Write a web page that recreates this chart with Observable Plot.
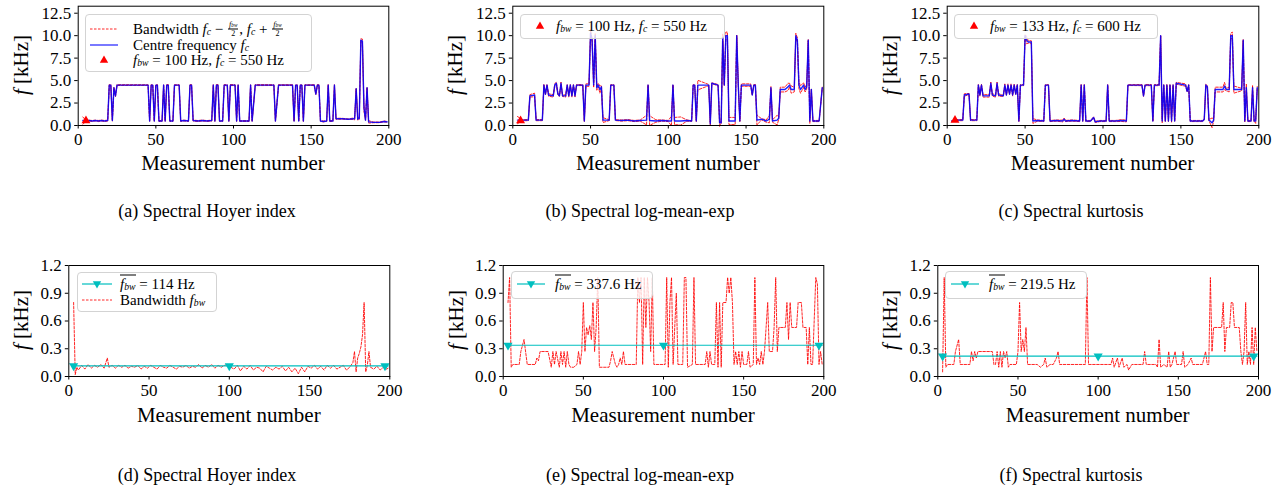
<!DOCTYPE html>
<html><head><meta charset="utf-8">
<script src="https://cdn.jsdelivr.net/npm/d3@7"></script>
<script src="https://cdn.jsdelivr.net/npm/@observablehq/plot@0.6"></script>
<style>
body{margin:0;background:#fff;font-family:"Liberation Serif",serif;color:#000;}
#root{position:relative;width:1288px;height:491px;overflow:hidden;background:#fff;}
.panel{position:absolute;}
.lbl{position:absolute;font-size:21px;white-space:nowrap;transform:translate(-50%,-50%);line-height:1;}
.ylbl{transform:translate(-50%,-50%) rotate(-90deg);}
.cap{position:absolute;font-size:18px;white-space:nowrap;transform:translate(-50%,-50%);line-height:1;}
.leg{position:absolute;background:rgba(255,255,255,0.8);border:1px solid #d3d3d3;border-radius:4px;box-sizing:border-box;}
.ltxt{position:absolute;font-size:15px;white-space:nowrap;transform:translateY(-50%);line-height:1;}
.samp{position:absolute;overflow:visible;}
sub{font-size:65%;vertical-align:-0.2em;line-height:0;}
.fr{display:inline-flex;flex-direction:column;vertical-align:middle;font-size:8px;text-align:center;line-height:0.9;margin:-4px 1px;position:relative;top:-1px;}
.fr .n{border-bottom:0.8px solid #000;padding:0 1px 0.5px 1px;}
.fr sub{vertical-align:-0.1em;}
.ov{border-top:1px solid #000;padding-top:0px;}
</style>
</head><body><div id="root"></div>
<script>
// ---------- data ----------
const measTicks = [0, 50, 100, 150, 200];
const topTicks = [0, 2.5, 5, 7.5, 10, 12.5];
const bottomTicks = [0, 0.3, 0.6, 0.9, 1.2];

// centre frequency f_c [kHz] : [measurement, value]
const hoyerFc = [[3,0.55],[5,0.5],[7,0.55],[9,0.5],[11,0.55],[13,0.5],[15,0.55],[17,0.5],[19,0.55],[20,4.5],[21,4.5],[22,0.55],[23,4.2],[24,3.3],[25,4.5],[45,4.5],[46,0.5],[47,4.5],[48,4.5],[49,0.5],[50,4.5],[51,4.5],[52,0.5],[54,0.5],[55,4.5],[56,0.5],[57,4.5],[58,4.5],[59,0.5],[61,0.5],[62,4.5],[65,4.5],[66,0.5],[68,0.55],[71,0.5],[72,4.5],[73,4.5],[74,0.55],[77,0.5],[80,0.55],[83,0.5],[86,0.55],[87,4.5],[88,0.5],[89,4.5],[90,4.5],[91,0.5],[93,0.5],[94,4.5],[96,4.5],[97,0.5],[98,4.5],[101,4.5],[102,0.5],[103,4.5],[104,0.5],[110,0.5],[111,4.5],[112,0.5],[114,4.5],[126,4.5],[127,0.5],[129,4.5],[138,4.5],[139,0.5],[140,4.5],[141,4.5],[142,0.5],[143,4.5],[144,4.5],[145,0.5],[146,4.5],[152,4.5],[153,3.5],[154,4.5],[155,4.5],[156,0.5],[158,0.45],[160,0.5],[161,4.5],[162,0.5],[164,0.5],[165,4.5],[166,0.75],[170,0.75],[174,0.7],[177,0.75],[178,0.75],[179,4.1],[180,0.7],[181,0.8],[182,9.5],[183,9.4],[184,2.0],[185,0.6],[186,4.2],[187,0.4],[190,0.35],[194,0.35],[197,0.45],[199,0.4]];
const logmeFc = [[3,0.6],[6,0.6],[10,0.6],[11,3.3],[14,3.4],[15,0.6],[19,0.6],[20,4.5],[21,3.5],[22,4.5],[23,3.4],[26,3.3],[27,4.5],[28,4.7],[29,3.5],[30,3.3],[31,4.7],[32,3.3],[34,3.3],[35,4.5],[36,3.3],[37,4.5],[38,3.3],[39,4.5],[40,3.3],[41,4.5],[45,4.5],[46,0.5],[47,4.5],[49,4.5],[50,10.3],[51,9.5],[52,4.5],[53,10.0],[54,4.2],[55,4.5],[56,4.0],[57,4.3],[58,0.6],[62,0.6],[63,4.5],[65,4.5],[66,0.6],[70,0.55],[74,0.6],[78,0.5],[82,0.55],[86,0.6],[87,4.5],[88,0.55],[92,0.5],[96,0.55],[100,0.5],[102,0.5],[103,4.5],[104,0.5],[108,0.5],[112,0.55],[115,0.5],[116,4.5],[117,4.5],[118,0.5],[119,4.5],[126,4.5],[127,0.2],[128,4.7],[132,4.5],[133,0.3],[134,0.3],[135,9.8],[136,4.5],[137,10.0],[138,10.0],[139,0.5],[143,0.5],[144,10.0],[145,4.5],[146,0.5],[147,4.5],[153,4.5],[154,3.4],[155,4.5],[156,4.5],[157,0.6],[160,0.7],[163,0.5],[165,0.7],[166,4.2],[167,0.5],[170,0.6],[171,0.8],[172,4.0],[175,4.0],[177,4.3],[178,4.5],[179,4.0],[181,4.0],[182,10.0],[183,9.5],[184,4.5],[185,4.0],[187,4.5],[188,4.0],[189,4.3],[190,9.5],[191,0.5],[192,4.0],[193,0.5],[197,0.5],[199,4.2]];
const kurtFc = [[3,0.5],[6,0.6],[10,0.6],[11,3.4],[14,3.5],[15,0.6],[19,0.6],[20,4.5],[21,3.4],[22,4.5],[23,3.3],[27,3.3],[28,4.7],[29,3.4],[31,3.3],[32,4.7],[33,3.4],[36,3.3],[37,4.5],[38,3.4],[39,4.5],[40,3.5],[41,4.5],[42,3.4],[43,4.5],[44,3.5],[45,4.5],[46,0.5],[47,4.5],[49,4.5],[50,10.0],[51,9.5],[52,9.3],[54,9.3],[55,0.5],[58,0.55],[62,0.5],[63,4.5],[65,4.5],[66,0.5],[70,0.55],[74,0.5],[75,0.7],[76,0.5],[80,0.55],[85,0.5],[86,4.5],[87,0.5],[88,4.5],[89,0.5],[92,0.5],[94,0.9],[95,0.4],[98,0.5],[102,0.5],[103,4.5],[104,0.5],[108,0.5],[112,0.55],[115,0.5],[116,4.5],[125,4.5],[126,3.3],[127,4.5],[131,4.5],[132,0.5],[133,4.5],[136,4.5],[137,10.0],[138,0.5],[139,4.5],[140,0.5],[141,4.5],[142,0.5],[143,4.5],[144,0.5],[145,4.5],[146,0.5],[147,4.7],[153,4.5],[154,3.8],[155,4.5],[156,0.5],[160,0.5],[164,0.5],[165,0.7],[166,4.5],[167,4.3],[168,0.6],[170,0.3],[171,0.6],[172,4.0],[177,4.0],[178,4.4],[179,4.0],[181,4.0],[182,10.0],[183,10.0],[184,4.0],[189,4.0],[190,9.5],[191,0.5],[192,4.2],[193,0.5],[195,0.5],[196,4.2],[197,0.5],[198,0.5],[199,4.2]];

// bandwidth f_bw [kHz] : [measurement, value]
const hoyerBw = [[3,0.80],[4,0.02],[5,0.10],[6,0.07],[8,0.12],[10,0.08],[12,0.13],[14,0.09],[16,0.12],[18,0.10],[20,0.13],[22,0.09],[24,0.20],[25,0.10],[27,0.12],[29,0.09],[31,0.12],[33,0.10],[35,0.12],[37,0.09],[39,0.11],[41,0.10],[43,0.12],[45,0.08],[47,0.11],[49,0.09],[51,0.12],[53,0.10],[55,0.08],[57,0.12],[59,0.10],[61,0.09],[63,0.12],[65,0.10],[67,0.08],[69,0.11],[71,0.10],[73,0.12],[75,0.09],[77,0.11],[79,0.10],[81,0.13],[83,0.09],[85,0.12],[87,0.10],[89,0.13],[91,0.09],[93,0.12],[95,0.10],[97,0.12],[99,0.13],[101,0.10],[103,0.08],[105,0.12],[107,0.06],[109,0.11],[111,0.08],[113,0.12],[115,0.07],[117,0.10],[119,0.09],[121,0.05],[123,0.11],[125,0.09],[127,0.07],[129,0.10],[131,0.08],[133,0.11],[135,0.06],[137,0.10],[139,0.05],[141,0.09],[143,0.03],[145,0.10],[147,0.05],[149,0.11],[151,0.09],[153,0.12],[155,0.08],[157,0.11],[159,0.07],[161,0.12],[163,0.09],[165,0.12],[167,0.08],[169,0.10],[171,0.12],[173,0.07],[175,0.10],[177,0.15],[178,0.27],[179,0.05],[180,0.20],[181,0.25],[182,0.32],[183,0.45],[184,0.80],[185,0.05],[186,0.12],[187,0.27],[188,0.10],[190,0.08],[192,0.11],[194,0.07],[196,0.10],[198,0.08],[199,0.09]];
const logmeBw = [[3,0.80],[4,1.07],[5,0.10],[6,0.13],[10,0.13],[11,0.27],[13,0.40],[15,0.13],[20,0.13],[21,0.20],[22,0.17],[23,0.27],[28,0.27],[30,0.10],[31,0.27],[32,0.13],[33,0.27],[35,0.10],[36,0.27],[37,0.13],[38,0.27],[39,0.10],[40,0.27],[41,0.13],[42,0.10],[44,0.10],[46,0.13],[47,0.27],[48,0.13],[49,0.27],[50,0.80],[51,0.27],[52,0.53],[53,0.45],[54,0.55],[55,0.40],[56,0.80],[57,0.27],[58,0.53],[59,1.07],[60,0.10],[66,0.10],[67,0.17],[68,0.27],[70,0.13],[71,0.10],[72,0.13],[73,0.20],[74,0.13],[75,0.27],[76,0.13],[83,0.13],[84,1.07],[85,0.80],[86,1.07],[87,0.13],[88,1.07],[89,0.53],[90,1.07],[91,0.80],[92,0.27],[93,1.07],[94,0.13],[100,0.13],[101,0.13],[102,1.07],[103,0.10],[104,0.80],[105,1.07],[106,0.13],[107,0.53],[108,0.90],[109,0.13],[112,0.13],[113,1.07],[114,1.07],[115,0.10],[118,0.13],[119,1.07],[120,0.13],[126,0.13],[127,0.27],[128,0.10],[129,0.27],[130,0.13],[132,0.13],[133,0.80],[134,0.10],[135,0.80],[136,0.10],[137,0.80],[139,0.80],[140,1.07],[141,0.90],[142,1.07],[143,0.80],[144,0.13],[145,0.27],[146,0.13],[147,0.27],[148,0.10],[149,0.27],[150,0.13],[152,0.13],[153,0.27],[154,0.10],[156,0.13],[157,1.07],[158,0.13],[159,0.20],[160,0.13],[161,0.27],[162,0.13],[163,0.27],[164,0.53],[165,0.80],[166,0.27],[168,0.27],[169,0.53],[170,1.07],[171,0.27],[172,0.53],[176,0.53],[177,0.80],[178,0.40],[179,0.80],[180,0.53],[183,0.53],[184,0.80],[186,0.80],[187,0.53],[189,0.53],[190,0.13],[191,0.53],[192,0.13],[193,0.13],[195,1.07],[196,1.00],[197,0.13],[198,0.27],[199,0.13]];
const kurtBw = [[3,0.05],[4,1.07],[5,0.10],[6,0.13],[10,0.13],[11,0.27],[13,0.40],[14,0.13],[20,0.13],[21,0.27],[22,0.17],[23,0.27],[24,0.20],[25,0.27],[34,0.27],[35,0.13],[36,0.13],[37,0.27],[38,0.10],[39,0.27],[40,0.10],[41,0.27],[42,0.20],[43,0.27],[44,0.10],[45,0.13],[49,0.13],[50,0.27],[51,0.80],[52,0.27],[53,0.40],[54,0.27],[55,0.53],[56,0.13],[62,0.13],[64,0.10],[66,0.13],[67,0.20],[68,0.10],[70,0.13],[72,0.13],[74,0.20],[75,0.27],[76,0.13],[90,0.13],[92,0.13],[93,1.07],[94,0.13],[108,0.13],[109,0.20],[110,0.10],[112,0.20],[113,0.10],[115,0.20],[116,0.10],[118,0.13],[119,0.07],[121,0.13],[125,0.13],[128,0.13],[129,0.27],[130,0.13],[136,0.13],[137,0.10],[138,0.40],[139,0.10],[141,0.13],[143,0.10],[144,0.27],[145,0.10],[146,0.13],[147,0.20],[148,0.27],[149,0.13],[152,0.13],[153,0.27],[154,0.10],[156,0.13],[158,0.20],[159,0.13],[165,0.13],[166,0.20],[167,0.27],[168,0.13],[169,0.13],[170,1.07],[171,0.27],[172,0.53],[177,0.53],[178,0.80],[179,0.27],[180,0.53],[182,0.53],[183,0.80],[184,0.80],[185,0.53],[188,0.53],[189,0.27],[190,0.13],[191,0.27],[192,0.80],[193,0.13],[194,0.27],[195,0.13],[196,0.53],[197,0.13],[198,0.53],[199,0.27]];

// mean bandwidth [kHz] and its marker positions
const meanBw = [0.114, 0.3376, 0.2195];
const meanLineM = [3, 199];
const meanMarkM = [3, 100, 197];
// reference point (measurement, f_c kHz) per method
const refPoint = [[5, 0.55], [5, 0.55], [5, 0.6]];

const captionsTop = ["(a) Spectral Hoyer index", "(b) Spectral log-mean-exp", "(c) Spectral kurtosis"];
const captionsBottom = ["(d) Spectral Hoyer index", "(e) Spectral log-mean-exp", "(f) Spectral kurtosis"];

// ---------- layout ----------
const root = document.getElementById("root");
const RED = "#ff0000", BLUE = "#0000ff", CYAN = "#00bfbf";
const fontStyle = {fontFamily: '"Liberation Serif", serif', fontSize: "17px", color: "#000", background: "transparent", overflow: "visible"};

function nearest(rows, m) {
  let best = rows[0];
  for (const r of rows) if (Math.abs(r[0] - m) < Math.abs(best[0] - m)) best = r;
  return best[1];
}

function place(el, left, top) {
  el.classList.add("panel");
  el.style.left = left + "px"; el.style.top = top + "px";
  root.appendChild(el);
}

function addText(cls, html, x, y) {
  const d = document.createElement("div");
  d.className = cls; d.innerHTML = html;
  d.style.left = x + "px"; d.style.top = y + "px";
  root.appendChild(d);
}

const topGeo = [
  {svgL: 0, W: 400, mL: 77.7, mR: 11.7},
  {svgL: 430, W: 400, mL: 82.3, mR: 6.7},
  {svgL: 866, W: 410, mL: 80.7, mR: 17.7}
];
const botGeo = [
  {svgL: 0, W: 400, mL: 68.3, mR: 10.7},
  {svgL: 430, W: 400, mL: 72.7, mR: 6.7},
  {svgL: 866, W: 410, mL: 71.3, mR: 18}
];
const fcSets = [hoyerFc, logmeFc, kurtFc];
const bwSets = [hoyerBw, logmeBw, kurtBw];

function axes(yTicks) {
  return [
    Plot.axisX({ticks: measTicks, tickSize: 3.5, tickPadding: 3.5, label: null}),
    Plot.axisY({ticks: yTicks, tickSize: 3.5, tickPadding: 3.5, label: null, tickFormat: d3.format(".1f")}),
    Plot.frame({stroke: "#000", strokeWidth: 1})
  ];
}

for (let i = 0; i < 3; i++) {
  const g = topGeo[i];
  const fc = fcSets[i].map(([m, v]) => ({m, fc: v, bw: nearest(bwSets[i], m)}));
  const p = Plot.plot({
    width: g.W, height: 155,
    marginLeft: g.mL, marginRight: g.mR, marginTop: 5.7, marginBottom: 30,
    style: fontStyle,
    x: {domain: [0, 200]},
    y: {domain: [0, 13.28]},
    marks: [
      Plot.line(fc, {x: "m", y: d => d.fc - d.bw / 2, stroke: RED, strokeWidth: 1, strokeDasharray: "2.5,1.5", strokeOpacity: 0.85}),
      Plot.line(fc, {x: "m", y: d => d.fc + d.bw / 2, stroke: RED, strokeWidth: 1, strokeDasharray: "2.5,1.5", strokeOpacity: 0.85}),
      Plot.line(fc, {x: "m", y: "fc", stroke: BLUE, strokeWidth: 1.4, strokeOpacity: 0.88}),
      Plot.dot([refPoint[i]], {x: d => d[0], y: d => d[1], symbol: "triangle", r: 3.3, fill: RED, stroke: "none"}),
      ...axes(topTicks)
    ]
  });
  place(p, g.svgL, 0);

  const b = botGeo[i];
  const bw = bwSets[i].map(([m, v]) => ({m, v}));
  const meanLine = meanLineM.map(m => ({m, v: meanBw[i]}));
  const meanMarks = meanMarkM.map(m => ({m, v: meanBw[i]}));
  const q = Plot.plot({
    width: b.W, height: 151,
    marginLeft: b.mL, marginRight: b.mR, marginTop: 10, marginBottom: 30,
    style: fontStyle,
    x: {domain: [0, 200]},
    y: {domain: [0, 1.2]},
    marks: [
      Plot.line(bw, {x: "m", y: "v", stroke: RED, strokeWidth: 1, strokeDasharray: "2.5,1.5", strokeOpacity: 0.85}),
      Plot.line(meanLine, {x: "m", y: "v", stroke: CYAN, strokeWidth: 1.2}),
      Plot.dot(meanMarks, {x: "m", y: "v", symbol: "triangle", rotate: 180, r: 3.4, fill: CYAN, stroke: "none"}),
      ...axes(bottomTicks)
    ]
  });
  place(q, b.svgL, 255);

  // axis labels
  const topL = g.svgL + g.mL, topR = g.svgL + g.W - g.mR;
  const botL = b.svgL + b.mL, botR = b.svgL + b.W - b.mR;
  addText("lbl", "Measurement number", (topL + topR) / 2, 163);
  addText("lbl", "Measurement number", (botL + botR) / 2, 415);
  addText("lbl ylbl", "<i>f</i> [kHz]", topL - 57, 65);
  addText("lbl ylbl", "<i>f</i> [kHz]", botL - 47, 320);
}

// captions
const capX = [207, 640, 1071];
captionsTop.forEach((c, i) => addText("cap", c, capX[i], 211));
captionsBottom.forEach((c, i) => addText("cap", c, capX[i], 475));

// ---------- legends ----------
function box(l, t, w, h) {
  const d = document.createElement("div");
  d.className = "leg";
  Object.assign(d.style, {left: l + "px", top: t + "px", width: w + "px", height: h + "px"});
  root.appendChild(d);
}
function sample(kind, x0, x1, y) {
  const ns = "http://www.w3.org/2000/svg";
  const s = document.createElementNS(ns, "svg");
  s.setAttribute("class", "samp");
  s.setAttribute("width", x1 - x0 + 10); s.setAttribute("height", 16);
  s.style.left = (x0 - 5) + "px"; s.style.top = (y - 8) + "px";
  const cx = (x1 - x0) / 2 + 5;
  let inner = "";
  if (kind === "red") inner = `<line x1="5" x2="${x1 - x0 + 5}" y1="8" y2="8" stroke="${RED}" stroke-width="1" stroke-dasharray="2.5,1.5" stroke-opacity="0.85"/>`;
  if (kind === "blue") inner = `<line x1="5" x2="${x1 - x0 + 5}" y1="8" y2="8" stroke="${BLUE}" stroke-width="1.5" stroke-opacity="0.7"/>`;
  if (kind === "tri") inner = `<path d="M${cx},${8 - 4.6}L${cx + 4.2},${8 + 2.8}L${cx - 4.2},${8 + 2.8}Z" fill="${RED}"/>`;
  if (kind === "cyan") inner = `<line x1="5" x2="${x1 - x0 + 5}" y1="8" y2="8" stroke="${CYAN}" stroke-width="1.2"/><path d="M${cx},${8 + 4.6}L${cx + 4.2},${8 - 2.8}L${cx - 4.2},${8 - 2.8}Z" fill="${CYAN}"/>`;
  s.innerHTML = inner;
  root.appendChild(s);
}
const fbw = '<i>f</i><sub><i>bw</i></sub>';
const fcs = '<i>f</i><sub><i>c</i></sub>';
const half = `<span class="fr"><span class="n"><i>f</i><sub><i>bw</i></sub></span><span>2</span></span>`;

// (a)
box(85, 14, 227, 58);
sample("red", 90, 118, 28.5); addText("ltxt", `Bandwidth ${fcs} − ${half}, ${fcs} + ${half}`, 133, 28.5);
sample("blue", 90, 118, 45); addText("ltxt", `Centre frequency ${fcs}`, 133, 45);
sample("tri", 90, 118, 60); addText("ltxt", `${fbw} = 100 Hz, ${fcs} = 550 Hz`, 133, 60);
// (b)
box(520, 14, 205, 25);
sample("tri", 527, 553, 26); addText("ltxt", `${fbw} = 100 Hz, ${fcs} = 550 Hz`, 556, 26);
// (c)
box(954, 14, 204, 25);
sample("tri", 961, 987, 26); addText("ltxt", `${fbw} = 133 Hz, ${fcs} = 600 Hz`, 990, 26);
// (d)
box(77, 272, 140, 40);
sample("cyan", 82, 112, 283.5); addText("ltxt", `<span class="ov">${fbw}</span> = 114 Hz`, 120, 283.5);
sample("red", 82, 112, 300); addText("ltxt", `Bandwidth ${fbw}`, 120, 300);
// (e)
box(511, 271, 142, 28);
sample("cyan", 517, 545, 284); addText("ltxt", `<span class="ov">${fbw}</span> = 337.6 Hz`, 555, 284);
// (f)
box(945, 271, 142, 28);
sample("cyan", 951, 979, 284); addText("ltxt", `<span class="ov">${fbw}</span> = 219.5 Hz`, 989, 284);
</script>
</body></html>
